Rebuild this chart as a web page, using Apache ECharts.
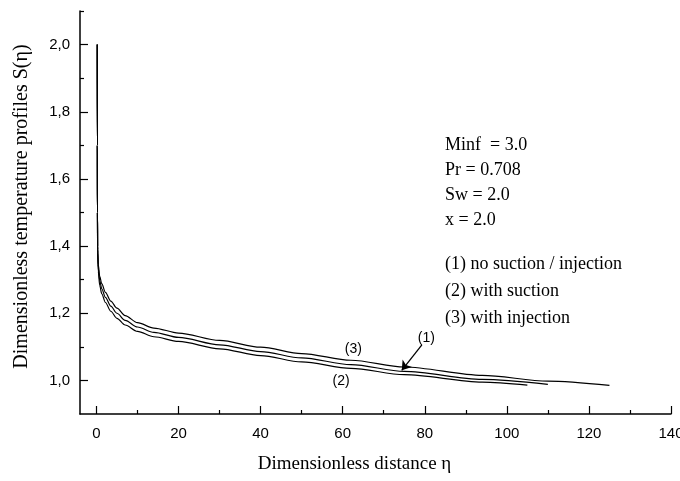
<!DOCTYPE html>
<html><head><meta charset="utf-8">
<script src="https://cdn.jsdelivr.net/npm/echarts@6/dist/echarts.min.js"></script>
<style>html,body{margin:0;padding:0;background:#fff}#c{width:680px;height:481px}</style>
</head><body><div id="c"></div>
<script>
// (1) no suction / injection  (middle curve)
const eta1 = [0.2, 0.22, 0.25, 0.3, 0.45, 0.8, 1.3, 2.2, 3.5, 5, 7, 10, 14, 20, 30, 40, 50, 62, 75, 94, 110];
const s1   = [2.0, 1.7, 1.5, 1.39, 1.335, 1.297, 1.273, 1.247, 1.221, 1.200, 1.179, 1.159, 1.143, 1.128, 1.106, 1.086, 1.067, 1.047, 1.027, 1.003, 0.988];
// (2) with suction (lower curve)
const eta2 = [0.2, 0.22, 0.25, 0.3, 0.45, 0.8, 1.3, 2.2, 3.5, 5, 7, 10, 14, 20, 30, 40, 50, 62, 75, 94, 105];
const s2   = [2.0, 1.7, 1.5, 1.38, 1.325, 1.283, 1.258, 1.232, 1.206, 1.185, 1.165, 1.146, 1.130, 1.116, 1.094, 1.074, 1.055, 1.036, 1.017, 0.995, 0.986];
// (3) with injection (upper curve)
const eta3 = [0.2, 0.22, 0.25, 0.3, 0.45, 0.8, 1.3, 2.2, 3.5, 5, 7, 10, 14, 20, 30, 40, 50, 62, 75, 94, 110, 125];
const s3   = [2.0, 1.7, 1.5, 1.40, 1.345, 1.31, 1.288, 1.262, 1.236, 1.215, 1.193, 1.172, 1.156, 1.141, 1.119, 1.099, 1.080, 1.060, 1.040, 1.015, 0.998, 0.985];

const xMajorTicks = [0, 20, 40, 60, 80, 100, 120, 140];
const xMinorTicks = [10, 30, 50, 70, 90, 110, 130];
const yMajorTicks = [1.0, 1.2, 1.4, 1.6, 1.8, 2.0];
const yMinorTicks = [1.1, 1.3, 1.5, 1.7, 1.9, 2.1];

const paramLines = ['Minf  = 3.0', 'Pr = 0.708', 'Sw = 2.0', 'x = 2.0'];
const caseLines = ['(1) no suction / injection', '(2) with suction', '(3) with injection'];

// curve tags in data coordinates [eta, S]
const tag1 = [80.4, 1.125], tag2 = [59.6, 0.998], tag3 = [62.6, 1.093];
const arrowFrom = [79.3, 1.106], arrowTo = [74.4, 1.03];

const pairs = (xs, ys) => xs.map((x, i) => [x, ys[i]]);
const serif = '"Liberation Serif", "Times New Roman", serif';
const sans = '"Liberation Sans", Arial, sans-serif';

const chart = echarts.init(document.getElementById('c'), null, {renderer: 'canvas'});

const lineStyle = {color: '#000', width: 1.2};
function tagPoint(coord, text) {
  return {coord: coord, value: text, symbol: 'circle', symbolSize: 1,
    itemStyle: {color: 'rgba(0,0,0,0)'},
    label: {show: true, position: 'inside', formatter: text, color: '#000', fontFamily: sans, fontSize: 14}};
}

const graphics = [];
paramLines.forEach((t, i) => graphics.push({type: 'text', left: 445, top: 136 + i * 25,
  style: {text: t, font: '18px ' + serif, fill: '#000'}}));
caseLines.forEach((t, i) => graphics.push({type: 'text', left: 445, top: 255 + i * 27,
  style: {text: t, font: '18px ' + serif, fill: '#000'}}));

const tickStyle = {color: '#000', width: 1.2};
chart.setOption({
  animation: false,
  backgroundColor: '#fff',
  grid: {left: 80, right: 9, top: 11, bottom: 67, containLabel: false, outerBoundsMode: 'none'},
  xAxis: [{
    type: 'value', min: -4, max: 140, position: 'bottom',
    name: 'Dimensionless distance η', nameLocation: 'middle', nameGap: 41,
    nameTextStyle: {fontFamily: serif, fontSize: 19, color: '#000', padding: [0, 42, 0, 0]},
    axisLine: {show: true, onZero: false, lineStyle: {color: '#000', width: 1.5}},
    axisTick: {show: true, inside: true, length: 8, customValues: xMajorTicks, lineStyle: tickStyle},
    axisLabel: {show: true, customValues: xMajorTicks, margin: 12, color: '#000', fontFamily: sans, fontSize: 15},
    splitLine: {show: false}
  }, {
    type: 'value', min: -4, max: 140, position: 'bottom',
    axisLine: {show: false, onZero: false},
    axisTick: {show: true, inside: true, length: 4, customValues: xMinorTicks, lineStyle: tickStyle},
    axisLabel: {show: false}, splitLine: {show: false}
  }],
  yAxis: [{
    type: 'value', min: 0.9, max: 2.1, position: 'left',
    name: 'Dimensionless temperature profiles S(η)', nameLocation: 'middle', nameGap: 48,
    nameTextStyle: {fontFamily: serif, fontSize: 20, color: '#000', padding: [0, 0, 0, 12]},
    axisLine: {show: true, onZero: false, lineStyle: {color: '#000', width: 1.5}},
    axisTick: {show: true, inside: true, length: 8, customValues: yMajorTicks, lineStyle: tickStyle},
    axisLabel: {show: true, customValues: yMajorTicks, margin: 10, color: '#000', fontFamily: sans, fontSize: 15,
      formatter: v => v.toFixed(1).replace('.', ',')},
    splitLine: {show: false}
  }, {
    type: 'value', min: 0.9, max: 2.1, position: 'left',
    axisLine: {show: false, onZero: false},
    axisTick: {show: true, inside: true, length: 4, customValues: yMinorTicks, lineStyle: tickStyle},
    axisLabel: {show: false}, splitLine: {show: false}
  }],
  graphic: graphics,
  series: [
    {name: '(1)', type: 'line', data: pairs(eta1, s1), showSymbol: false, smooth: 0.3, smoothMonotone: 'x',
      lineStyle: lineStyle, silent: true,
      markPoint: {silent: true, data: [tagPoint(tag1, '(1)')]},
      markLine: {silent: true, symbol: ['none', 'arrow'], symbolSize: 9,
        lineStyle: {color: '#000', width: 1.3, type: 'solid'}, label: {show: false},
        data: [[{coord: arrowFrom}, {coord: arrowTo}]]}},
    {name: '(2)', type: 'line', data: pairs(eta2, s2), showSymbol: false, smooth: 0.3, smoothMonotone: 'x',
      lineStyle: lineStyle, silent: true,
      markPoint: {silent: true, data: [tagPoint(tag2, '(2)')]}},
    {name: '(3)', type: 'line', data: pairs(eta3, s3), showSymbol: false, smooth: 0.3, smoothMonotone: 'x',
      lineStyle: lineStyle, silent: true,
      markPoint: {silent: true, data: [tagPoint(tag3, '(3)')]}}
  ]
});
</script></body></html>
